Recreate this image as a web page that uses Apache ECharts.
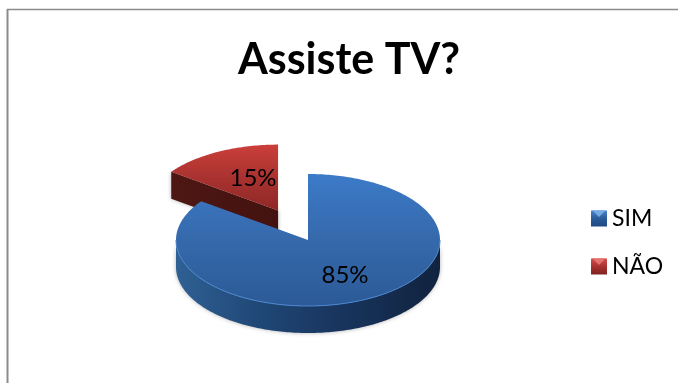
<!DOCTYPE html>
<html>
<head>
<meta charset="utf-8">
<style>html,body{margin:0;padding:0;background:#fff}#c{width:678px;height:383px}</style>
<script src="https://cdn.jsdelivr.net/npm/echarts@6/dist/echarts.min.js"></script>
</head>
<body>
<div id="c"></div>
<script>
// Survey answers
const categories = ['SIM', 'NÃO'];
const shares = [85, 15];

// Layout of the tilted pie, in pixels
const FONT = 'Lato, Carlito, "Open Sans", sans-serif';
const pie = { cx: 308, cy: 240, rx: 132, ry: 66, depth: 27, explode: [0, 0.5] };
const labelOffsets = [[37, 35], [-25, -32]];

const G = echarts.graphic;
const v = (stops, horizontal) => new G.LinearGradient(0, 0, horizontal ? 1 : 0, horizontal ? 0 : 1,
  stops.map((c, i) => ({ offset: i / (stops.length - 1), color: c })));

const topFills = [v(['#3c7ac8', '#3569ab', '#2c5a97']), v(['#cb3f3a', '#a93230', '#8f2826'])];
const wallFills = [v(['#2f6094', '#1f4674', '#17325a', '#11233e'], true), v(['#4e1713', '#431210'], true)];
const rimColors = ['#4a88d2', '#d0504a'];
const legendFills = [v(['#4a86cc', '#2a5a98', '#1f4a80']), v(['#d0504c', '#a93230', '#7f2220'])];
const total = shares.reduce((a, b) => a + b, 0);

function renderSlice(params, api) {
  const i = params.seriesIndex;
  const start = api.value(0) / total * 360;
  const sweep = api.value(1) / total * 360;
  const end = start + sweep;
  const rad = d => d * Math.PI / 180;
  const mid = rad(start + sweep / 2);
  // exploded slices slide out along their middle angle
  const cx = pie.cx + pie.rx * Math.sin(mid) * pie.explode[i];
  const cy = pie.cy - pie.ry * Math.cos(mid) * pie.explode[i];
  const at = d => [cx + pie.rx * Math.sin(rad(d)), cy - pie.ry * Math.cos(rad(d))];
  const arc = (a, b) => {
    const pts = [];
    const n = Math.max(2, Math.ceil(Math.abs(b - a)));
    for (let k = 0; k <= n; k++) pts.push(at(a + (b - a) * k / n));
    return pts;
  };
  const drop = p => [p[0], p[1] + pie.depth];
  const children = [];
  const wallStyle = { fill: wallFills[i], shadowBlur: 4, shadowColor: 'rgba(0,0,0,0.3)' };

  // cut faces that turn toward the viewer
  const cut = d => {
    const rim = at(d);
    children.push({ type: 'polygon', shape: { points: [[cx, cy], rim, drop(rim), [cx, cy + pie.depth]] }, style: wallStyle });
  };
  if (Math.cos(rad(start - 90)) < -1e-6) cut(start);
  if (Math.cos(rad(end + 90)) < -1e-6) cut(end);

  // outer wall, the part on the front half of the ellipse
  const a = Math.max(start, 90), b = Math.min(end, 270);
  if (b > a) {
    const edge = arc(a, b);
    children.push({ type: 'polygon', shape: { points: edge.concat(edge.map(drop).reverse()) }, style: wallStyle });
  }

  // top face
  children.push({
    type: 'polygon',
    shape: { points: [[cx, cy]].concat(arc(start, end)) },
    style: { fill: topFills[i] }
  });
  if (b > a) {
    children.push({
      type: 'polyline',
      shape: { points: arc(a, b) },
      style: { fill: null, stroke: rimColors[i], lineWidth: 1 }
    });
  }

  // percentage label
  children.push({
    type: 'text',
    x: cx + labelOffsets[i][0],
    y: cy + labelOffsets[i][1],
    style: {
      text: Math.round(api.value(1) / total * 100) + '%',
      font: '24px ' + FONT,
      fill: '#000',
      align: 'center',
      verticalAlign: 'middle'
    }
  });
  return { type: 'group', children };
}

let running = 0;
const series = categories.map((name, i) => {
  const item = [running, shares[i]];
  running += shares[i];
  return {
    type: 'custom',
    name,
    coordinateSystem: 'none',
    z: i === 0 ? 3 : 2,
    silent: true,
    itemStyle: { color: legendFills[i] },
    data: [item],
    renderItem: renderSlice
  };
});

// small lighter wedge on each legend key
const keyWedge = (y, fill) => ({
  type: 'polygon', z: 20,
  shape: { points: [[592, y], [606, y], [599, y + 7]] },
  style: { fill, opacity: 0.85 }
});

const chart = echarts.init(document.getElementById('c'), null, { renderer: 'canvas' });
chart.setOption({
  animation: false,
  backgroundColor: '#fff',
  title: {
    text: 'Assiste TV?',
    left: 344, top: 34, textAlign: 'center',
    textStyle: { fontFamily: FONT, fontSize: 43, fontWeight: 'bold', color: '#000' }
  },
  legend: {
    orient: 'vertical',
    left: 586, top: 202,
    icon: 'rect',
    itemWidth: 16, itemHeight: 16, itemGap: 25,
    selectedMode: false,
    data: categories.map((name, i) => ({ name, itemStyle: { color: legendFills[i] } })),
    textStyle: { fontFamily: FONT, fontSize: 23, color: '#000' }
  },
  series,
  graphic: [
    { type: 'line', z: 0, shape: { x1: 7.5, y1: 9, x2: 7.5, y2: 383 }, style: { stroke: '#8c8c8c', lineWidth: 2 } },
    { type: 'line', z: 0, shape: { x1: 7, y1: 9.5, x2: 678, y2: 9.5 }, style: { stroke: '#8c8c8c', lineWidth: 1.5 } },
    keyWedge(210, '#7fb0e8'),
    keyWedge(258, '#e87a74')
  ]
});
</script>
</body>
</html>
